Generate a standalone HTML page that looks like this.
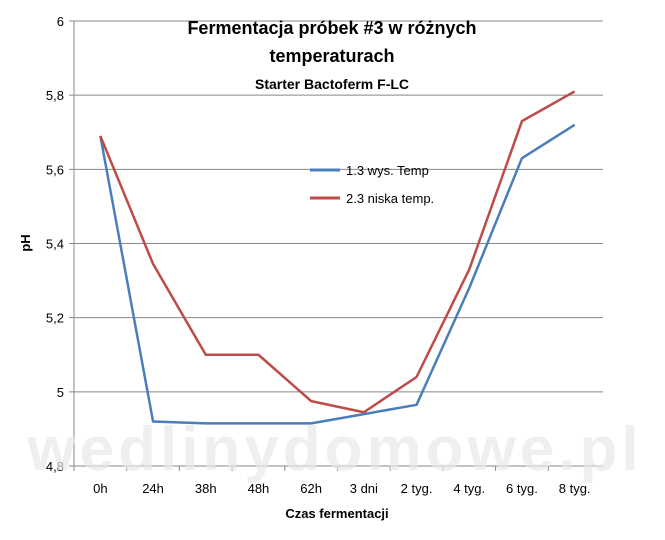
<!DOCTYPE html>
<html><head><meta charset="utf-8"><style>
body{margin:0;background:#fff;font-family:"Liberation Sans",sans-serif;}
</style></head><body>
<svg width="665" height="535" xmlns="http://www.w3.org/2000/svg" font-family="Liberation Sans, sans-serif">
<rect width="665" height="535" fill="#fff"/>
<g id="grid"></g>
<g id="lines"></g>
<text x="332" y="34" text-anchor="middle" font-size="18" font-weight="bold">Fermentacja próbek #3 w różnych</text>
<text x="332" y="62" text-anchor="middle" font-size="18" font-weight="bold">temperaturach</text>
<text x="332" y="89" text-anchor="middle" font-size="14" font-weight="bold">Starter Bactoferm F-LC</text>
<text x="337" y="518" text-anchor="middle" font-size="13" font-weight="bold">Czas fermentacji</text>
<text transform="translate(30,243) rotate(-90)" text-anchor="middle" font-size="13" font-weight="bold">pH</text>
<g>
<line x1="310" y1="170" x2="340" y2="170" stroke="#4a7ebb" stroke-width="3"/>
<text x="346" y="175" font-size="13">1.3 wys. Temp</text>
<line x1="310" y1="198" x2="340" y2="198" stroke="#be4b48" stroke-width="3"/>
<text x="346" y="203" font-size="13">2.3 niska temp.</text>
</g>
<text x="335" y="470" text-anchor="middle" font-size="62" font-weight="bold" fill="#e8e8e8" fill-opacity="0.7" letter-spacing="4">wedlinydomowe.pl</text>
</svg>
<script>
const categories=["0h","24h","38h","48h","62h","3 dni","2 tyg.","4 tyg.","6 tyg.","8 tyg."];
const seriesBlue=[5.69,4.92,4.915,4.915,4.915,4.94,4.965,5.28,5.63,5.72];
const seriesRed=[5.69,5.345,5.10,5.10,4.975,4.945,5.04,5.33,5.73,5.81];
const yTicks=[4.8,5,5.2,5.4,5.6,5.8,6];
const yTickLabels=["4,8","5","5,2","5,4","5,6","5,8","6"];
const NS="http://www.w3.org/2000/svg";
const L=74,R=601,T=21,B=466;
const xs=i=>L+(R-L)/categories.length*(i+0.5);
const ys=v=>B-(v-4.8)/(6-4.8)*(B-T);
const grid=document.getElementById('grid'),lines=document.getElementById('lines');
function mk(tag,at,parent){const e=document.createElementNS(NS,tag);for(const k in at)e.setAttribute(k,at[k]);parent.appendChild(e);return e;}
yTicks.forEach((t,i)=>{
 const g=mk('line',{x1:L-5,x2:R+2,y1:ys(t),y2:ys(t),stroke:'#888','stroke-width':1},grid);
 
 
 const tx=mk('text',{x:L-10,y:ys(t)+5,'text-anchor':'end','font-size':13},grid);
 tx.textContent=yTickLabels[i];
 
 
});
const ax=mk('line',{x1:L,x2:L,y1:T,y2:B,stroke:'#888'},grid);


categories.forEach((c,i)=>{
 const tx=mk('text',{x:xs(i),y:B+27,'text-anchor':'middle','font-size':13},grid);
 tx.textContent=c;
 
 
 const tk=mk('line',{x1:L+(R-L)/categories.length*i,x2:L+(R-L)/categories.length*i,y1:B,y2:B+5,stroke:'#888'},grid);
 
 
});
[[seriesBlue,'#4a7ebb','series-blue'],[seriesRed,'#be4b48','series-red']].forEach(([s,c,n])=>{
 const p=mk('polyline',{points:s.map((v,i)=>xs(i)+','+ys(v)).join(' '),fill:'none',stroke:c,'stroke-width':2.5,'stroke-linejoin':'round'},lines);
 
 
});
</script>
</body></html>
